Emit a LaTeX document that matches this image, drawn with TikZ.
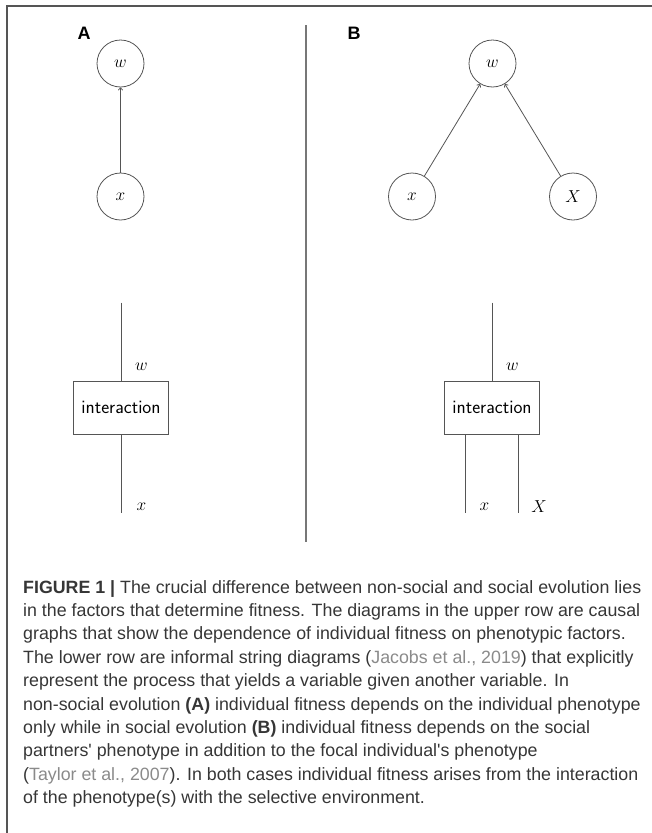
\documentclass[tikz,border=0pt]{standalone}
\usepackage{fontspec}
\newfontfamily\capfont{Liberation Sans}
\usetikzlibrary{arrows.meta}
\definecolor{txt}{HTML}{363636}
\definecolor{cite}{HTML}{8A8A8A}
\definecolor{ln}{HTML}{555555}
\tikzset{
  var/.style={circle, draw=ln, line width=0.8pt, minimum size=47pt, inner sep=0pt, font=\fontsize{17}{20}\selectfont},
  arr/.style={draw=ln, line width=0.8pt, -{To[length=3pt,width=5pt]}},
  wire/.style={draw=ln, line width=1pt},
  procbox/.style={draw=ln, line width=1pt, minimum width=95pt, minimum height=53pt, inner sep=0pt, font=\sffamily\fontsize{19}{22}\selectfont},
  lab/.style={font=\fontsize{17}{20}\selectfont, inner sep=0pt},
  panel/.style={font=\capfont\bfseries\fontsize{18}{20}\selectfont, inner sep=0pt},
  capline/.style={anchor=base west, inner sep=0pt, text=txt, font=\capfont\fontsize{17.8}{23.4}\selectfont},
  frame/.style={draw=ln, line width=2pt},
  divider/.style={draw=ln!80, line width=1.2pt}
}
\newcommand{\cit}[1]{({\color{cite}#1})}
\begin{document}
\begin{tikzpicture}[x=1pt,y=-1pt]
\useasboundingbox (0,0) rectangle (652,833);
% outer frame
\coordinate (fa) at (652,6);
\coordinate (fb) at (7,6);
\coordinate (fc) at (7,833);
\draw[frame] (fa) -- (fb) -- (fc);
% divider
\coordinate (d1) at (306,25);
\coordinate (d2) at (306,542);
\draw[divider] (d1) -- (d2);
% panel labels
\node[panel] (lA) at (84,33) {A};
\node[panel] (lB) at (354,33) {B};
% Panel A causal graph
\node[var] (wA) at (120.5,63.5) {$w$};
\node[var] (xA) at (120.5,196.5) {$x$};
\draw[arr] (xA) -- (wA);
% Panel B causal graph
\node[var] (wB) at (492.5,63.5) {$w$};
\node[var] (xB) at (412,196.5) {$x$};
\node[var] (XB) at (573,196.5) {$X$};
\draw[arr] (xB) -- (wB);
\draw[arr] (XB) -- (wB);
% Panel A string diagram
\node[procbox] (iA) at (121,407.5) {interaction};
\coordinate (tA) at (121,302.5);
\coordinate (bA) at (121,512.5);
\draw[wire] (tA) -- (iA.north);
\draw[wire] (iA.south) -- (bA);
\node[lab] (wlA) at (141.5,367) {$w$};
\node[lab] (xlA) at (141.5,506.5) {$x$};
% Panel B string diagram
\node[procbox] (iB) at (492,407.5) {interaction};
\coordinate (tB) at (492,302.5);
\coordinate (b1) at (465.5,512.5);
\coordinate (b2) at (518.5,512.5);
\draw[wire] (tB) -- (iB.north);
\draw[wire] (iB.south -| b1) -- (b1);
\draw[wire] (iB.south -| b2) -- (b2);
\node[lab] (wlB) at (512.5,367) {$w$};
\node[lab] (xlB) at (484.5,506.5) {$x$};
\node[lab] (XlB) at (539,506.5) {$X$};
% caption
\node[capline] (c1) at (23,593) {\textbf{FIGURE 1 |} The crucial difference between non-social and social evolution lies};
\node[capline] (c2) at (23,616.4) {in the factors that determine fitness. The diagrams in the upper row are causal};
\node[capline] (c3) at (23,639.8) {graphs that show the dependence of individual fitness on phenotypic factors.};
\node[capline] (c4) at (23,663.2) {The lower row are informal string diagrams \cit{Jacobs et al., 2019} that explicitly};
\node[capline] (c5) at (23,686.6) {represent the process that yields a variable given another variable. In};
\node[capline] (c6) at (23,710.0) {non-social evolution \textbf{(A)} individual fitness depends on the individual phenotype};
\node[capline] (c7) at (23,733.4) {only while in social evolution \textbf{(B)} individual fitness depends on the social};
\node[capline] (c8) at (23,756.8) {partners' phenotype in addition to the focal individual's phenotype};
\node[capline] (c9) at (23,780.2) {\cit{Taylor et al., 2007}. In both cases individual fitness arises from the interaction};
\node[capline] (c10) at (23,803.6) {of the phenotype(s) with the selective environment.};
\end{tikzpicture}
\end{document}
